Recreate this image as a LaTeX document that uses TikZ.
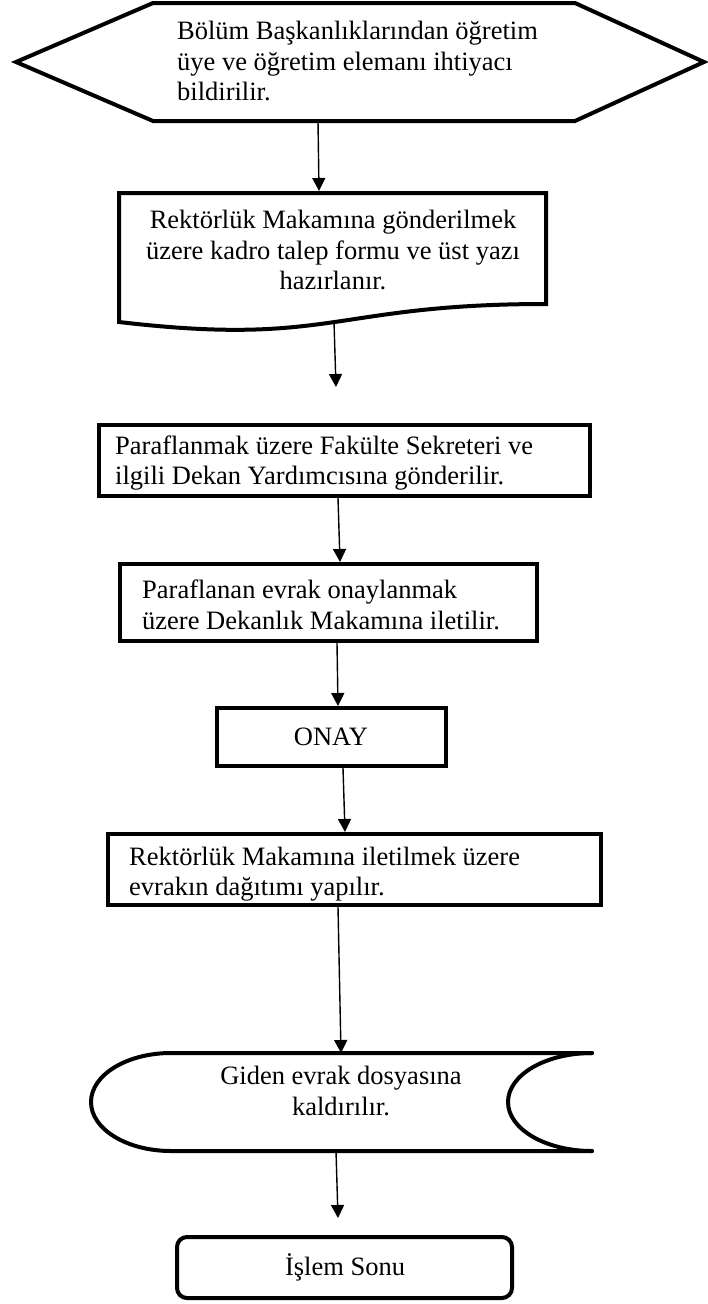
\documentclass[tikz,border=0pt]{standalone}
\usepackage{fontspec}
\setmainfont{Liberation Serif}
\usetikzlibrary{arrows.meta}
\begin{document}
\begin{tikzpicture}[x=1pt,y=-1pt,
  shapeline/.style={line width=4pt, line join=miter},
  boxnode/.style={draw, line width=4pt, rectangle, inner sep=0pt},
  txt/.style={inner sep=0pt, font=\fontsize{26.5}{30.5}\selectfont},
  arr/.style={line width=1.4pt, -{Triangle[length=13pt,width=13pt]}}]
\path[use as bounding box, fill=white] (0,0) rectangle (707,1304);

% hexagon (preparation)
\draw[shapeline] (16,62) -- (153,3) -- (575,3) -- (704,62) -- (575,121) -- (153,121) -- cycle;
\node[txt, align=left, anchor=west] (t1) at (177,61) {Bölüm Başkanlıklarından öğretim\\üye ve öğretim elemanı ihtiyacı\\bildirilir.};
\coordinate (hexb) at (318,121);

% document
\draw[shapeline] (119,193) -- (546,193) -- (546,304) .. controls (332,304) and (332,347) .. (119,322) -- cycle;
\node[txt, align=center] (t2) at (333,250) {Rektörlük Makamına gönderilmek\\üzere kadro talep formu ve üst yazı\\hazırlanır.};
\coordinate (doct) at (319,191);
\coordinate (docb) at (334,322);
\coordinate (a2end) at (336,387);

% process boxes
\node[boxnode, minimum width=491pt, minimum height=71pt] (b3) at (344.5,460.5) {};
\node[txt, align=left, anchor=west] (t3) at (115,463) {Paraflanmak üzere Fakülte Sekreteri ve\\ilgili Dekan Yardımcısına gönderilir.};

\node[boxnode, minimum width=417pt, minimum height=77pt] (b4) at (328.5,602.5) {};
\node[txt, align=left, anchor=west] (t4) at (142,605) {Paraflanan evrak onaylanmak\\üzere Dekanlık Makamına iletilir.};

\node[boxnode, minimum width=229pt, minimum height=58pt] (onay) at (331.5,737) {};
\node[txt] (t5) at (331,737) {ONAY};

\node[boxnode, minimum width=493pt, minimum height=71pt] (b6) at (354.5,869.5) {};
\node[txt, align=left, anchor=west] (t6) at (129,874) {Rektörlük Makamına iletilmek üzere\\evrakın dağıtımı yapılır.};

% stored data
\draw[shapeline, line cap=round] (592,1053) -- (171,1053) arc[start angle=90, end angle=270, x radius=80, y radius=-49] -- (592,1151);
\draw[shapeline, line cap=round] (592,1053) arc[start angle=90, end angle=270, x radius=84, y radius=-49];
\node[txt, align=center] (t7) at (341,1091) {Giden evrak dosyasına\\kaldırılır.};
\coordinate (stt) at (341,1053);
\coordinate (stb) at (336,1151);
\coordinate (a7end) at (338,1218);

% terminal
\node[boxnode, rounded corners=10pt, minimum width=335pt, minimum height=61pt] (term) at (344.5,1267.5) {};
\node[txt] (t8) at (345,1267) {İşlem Sonu};

% connectors
\draw[arr] (hexb) -- (doct);
\draw[arr] (docb) -- (a2end);
\draw[arr] ([xshift=-6.5pt]b3.south) -- ([xshift=11.5pt]b4.north);
\draw[arr] ([xshift=8.5pt]b4.south) -- ([xshift=6.5pt]onay.north);
\draw[arr] ([xshift=11.5pt]onay.south) -- ([xshift=-9.5pt]b6.north);
\draw[arr] ([xshift=-16.5pt]b6.south) -- (stt);
\draw[arr] (stb) -- (a7end);
\end{tikzpicture}
\end{document}
